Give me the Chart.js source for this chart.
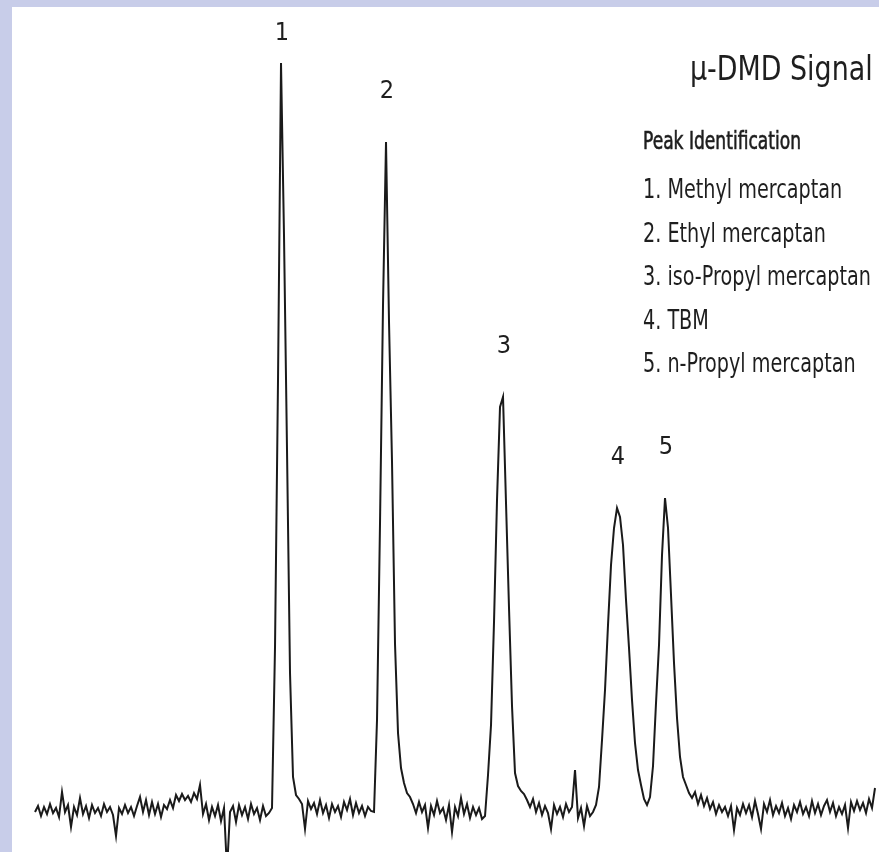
<!DOCTYPE html>
<html>
<head>
<meta charset="utf-8">
<style>
  body { margin: 0; background: #c8cde9; width: 879px; height: 852px; overflow: hidden; }
  #panel { position: absolute; left: 12px; top: 7px; width: 867px; height: 845px; background: #fff; }
  #wrap { position: absolute; left: 0; top: 0; width: 867px; height: 845px; }
  .txt { position: absolute; color: #1e1e1e; white-space: nowrap;
         font-family: "DejaVu Sans Condensed", "Liberation Sans Narrow", sans-serif; }
  #title { right: 6px; top: 44px; font-size: 34px; line-height: 34px;
           transform: scaleX(0.88); transform-origin: right top; }
  #idhead { left: 631px; top: 121px; font-size: 25px; line-height: 25px;
            -webkit-text-stroke: 0.6px #1e1e1e;
            transform: scaleX(0.76); transform-origin: left top; }
  #idlist { left: 631px; top: 160px; font-size: 27px; line-height: 43.5px;
            transform: scaleX(0.79); transform-origin: left top; }
</style>
</head>
<body>
<div id="panel">
  <div id="wrap"><canvas id="chrom"></canvas></div>
  <div class="txt" id="title">µ-DMD Signal</div>
  <div class="txt" id="idhead">Peak Identification</div>
  <div class="txt" id="idlist"></div>
</div>

<script src="https://cdn.jsdelivr.net/npm/chart.js"></script>
<script>
  // detector signal (mV), one sample every 0.01 min starting at t = 0
  const startTime = 0
  const sampleStep = 0.01
  const signal = [
    -0.2, 0.4, -0.6, 0.3, -0.4, 0.6, -0.3, 0.2, -0.7, 1.8,
    -0.2, 0.5, -1.7, 0.3, -0.5, 1.2, -0.4, 0.4, -0.8, 0.5,
    -0.3, 0.2, -0.6, 0.6, -0.2, 0.3, -0.5, -2.6, 0.2, -0.4,
    0.5, -0.3, 0.3, -0.6, 0.4, 1.3, -0.2, 1.0, -0.5, 0.8,
    -0.4, 0.6, -0.7, 0.5, 0.1, 1.0, 0.2, 1.5, 0.9, 1.6,
    1.0, 1.4, 0.8, 1.7, 1.1, 2.5, -0.4, 0.6, -1.0, 0.3,
    -0.6, 0.5, -1.1, 0.2, -6.0, -0.2, 0.4, -1.2, 0.5, -0.5,
    0.3, -0.9, 0.6, -0.4, 0.2, -1.0, 0.4, -0.6, -0.3, 0.2,
    16.3, 43.0, 74.7, 57.4, 36.0, 13.7, 3.3, 1.5, 1.1, 0.6,
    -1.9, 0.9, 0.1, 0.7, -0.4, 1.0, -0.3, 0.5, -0.8, 0.6,
    -0.2, 0.4, -0.7, 0.8, 0.0, 1.1, -0.5, 0.7, -0.3, 0.4,
    -0.6, 0.3, -0.1, -0.2, 9.0, 28.7, 50.5, 66.8, 48.8, 34.8,
    16.6, 7.7, 4.2, 2.7, 1.7, 1.3, 0.6, -0.3, 0.8, -0.2,
    0.5, -1.8, 0.4, -0.5, 0.9, -0.3, 0.2, -1.0, 0.5, -2.2,
    0.3, -0.6, 1.2, -0.4, 0.6, -0.8, 0.3, -0.5, 0.2, -0.9,
    -0.6, 3.5, 8.5, 18.8, 31.0, 40.3, 41.3, 30.7, 20.2, 10.4,
    3.7, 2.4, 1.9, 1.6, 1.0, 0.3, 1.1, -0.2, 0.7, -0.5,
    0.4, -0.3, -1.9, 0.5, -0.4, 0.3, -0.7, 0.6, -0.2, 0.3,
    4.0, -0.8, 0.2, -1.6, 0.4, -0.6, -0.2, 0.5, 2.3, 7.0,
    12.0, 18.5, 24.5, 28.2, 30.2, 29.3, 26.5, 21.0, 16.2, 11.0,
    6.7, 4.0, 2.5, 1.1, 0.5, 1.3, 4.4, 10.7, 16.5, 25.5,
    31.2, 28.2, 21.5, 14.7, 9.2, 5.3, 3.3, 2.5, 1.7, 1.2,
    1.8, 0.6, 1.5, 0.4, 1.2, 0.1, 0.8, -0.4, 0.5, -0.2,
    0.3, -0.6, 0.4, -2.0, 0.2, -0.5, 0.6, -0.3, 0.5, -0.7,
    0.9, -0.4, -1.9, 0.6, -0.2, 1.0, -0.5, 0.4, -0.3, 0.7,
    -0.6, 0.2, -0.9, 0.5, -0.2, 0.8, -0.4, 0.3, -0.6, 0.9,
    -0.3, 0.6, -0.5, 0.4, 1.0, -0.2, 0.7, -0.6, 0.3, -0.4,
    0.5, -1.8, 0.8, -0.1, 0.9, 0.0, 0.7, -0.3, 1.1, 0.2,
    2.2
  ]

  const peakTimes = [0.82, 1.17, 1.56, 1.94, 2.10]
  const peakLabels = ['1', '2', '3', '4', '5']
  const compounds = ['Methyl mercaptan', 'Ethyl mercaptan', 'iso-Propyl mercaptan', 'TBM', 'n-Propyl mercaptan']

  document.getElementById('idlist').innerHTML =
    compounds.map((c, i) => `${peakLabels[i]}. ${c}`).join('<br>')

  const points = signal.map((v, i) => ({ x: startTime + i * sampleStep, y: v }))

  // number above each peak apex
  const peakNumbers = {
    id: 'peakNumbers',
    afterDatasetsDraw(chart) {
      const { ctx, scales: { x, y } } = chart
      ctx.save()
      ctx.fillStyle = '#1e1e1e'
      ctx.font = '25px "DejaVu Sans Condensed", sans-serif'
      ctx.textAlign = 'center'
      ctx.textBaseline = 'middle'
      peakTimes.forEach((t, k) => {
        let best = null
        points.forEach(p => {
          if (Math.abs(p.x - t) <= 0.03 && (!best || p.y > best.y)) best = p
        })
        const px = x.getPixelForValue(best.x) + 1
        const py = Math.max(y.getPixelForValue(best.y) - 51, 26)
        ctx.fillText(peakLabels[k], px, py)
      })
      ctx.restore()
    }
  }

  new Chart(document.getElementById('chrom'), {
    type: 'line',
    data: {
      datasets: [{
        data: points,
        borderColor: '#1a1a1a',
        borderWidth: 2,
        pointRadius: 0,
        tension: 0,
        fill: false
      }]
    },
    options: {
      responsive: true,
      maintainAspectRatio: false,
      animation: false,
      layout: { padding: 0 },
      plugins: { legend: { display: false }, tooltip: { enabled: false } },
      scales: {
        x: { type: 'linear', display: false, min: -0.0767, max: 2.8133 },
        y: { display: false, min: -4.2, max: 80.3 }
      }
    },
    plugins: [peakNumbers]
  });
</script>
</body>
</html>
